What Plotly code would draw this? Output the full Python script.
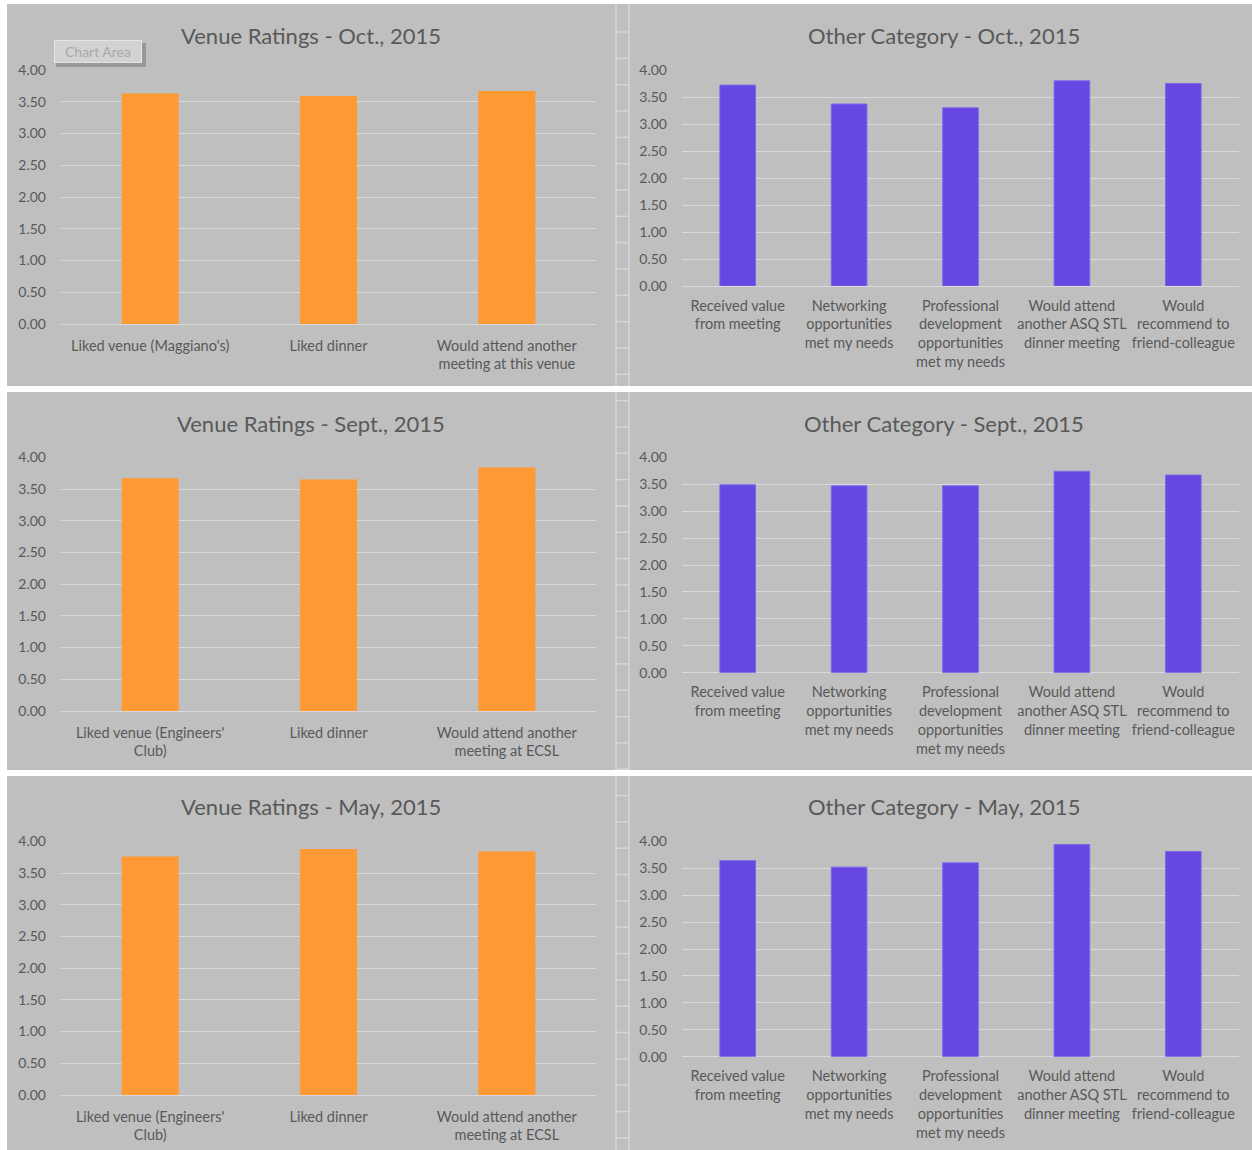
import plotly.graph_objects as go

# ---------------- data ----------------
venue_titles = ["Venue Ratings - Oct., 2015", "Venue Ratings - Sept., 2015", "Venue Ratings - May, 2015"]
other_titles = ["Other Category - Oct., 2015", "Other Category - Sept., 2015", "Other Category - May, 2015"]

venue_cats_oct = ["Liked venue (Maggiano's)", "Liked dinner",
                  "Would attend another<br>meeting at this venue"]
venue_cats_ecsl = ["Liked venue (Engineers'<br>Club)", "Liked dinner",
                   "Would attend another<br>meeting at ECSL"]
other_cats = ["Received value<br>from meeting",
              "Networking<br>opportunities<br>met my needs",
              "Professional<br>development<br>opportunities<br>met my needs",
              "Would attend<br>another ASQ STL<br>dinner meeting",
              "Would<br>recommend to<br>friend-colleague"]

venue_oct = [3.63, 3.59, 3.67]
venue_sept = [3.67, 3.65, 3.84]
venue_may = [3.76, 3.88, 3.84]

other_oct = [3.72, 3.37, 3.30, 3.80, 3.75]
other_sept = [3.49, 3.47, 3.47, 3.74, 3.67]
other_may = [3.64, 3.52, 3.60, 3.94, 3.81]

y_tick_vals = [0, 0.5, 1.0, 1.5, 2.0, 2.5, 3.0, 3.5, 4.0]

# ---------------- styling / layout ----------------
W, H = 1252, 1150
BG = "#BFBFBF"
GRID = "#D9D9D9"
TXT = "#595959"
ORANGE = "#FF9933"
PURPLE = "#6647E1"
FONT = "Lato"

def fx(px):
    return px / W

def fy(py):
    return 1 - py / H

# rows: (4.00 line px, venue zero line px, other zero line px, title y px, panel top, panel bottom)
rows = [
    (70.0, 324.0, 286.0, 36, 4, 386),
    (457.3, 711.0, 672.7, 423, 392, 770),
    (841.3, 1095.0, 1056.7, 806, 776, 1150),
]
venue_data = [venue_oct, venue_sept, venue_may]
venue_cats = [venue_cats_oct, venue_cats_ecsl, venue_cats_ecsl]
other_data = [other_oct, other_sept, other_may]

LEFT_X = (61, 596)
RIGHT_X = (682, 1239)

fig = go.Figure()
layout_axes = {}
annotations = []
shapes = []

for r, (ytop, yzero_v, yzero_o, ytitle, ptop, pbot) in enumerate(rows):
    # panel background
    shapes.append(dict(type="rect", xref="paper", yref="paper",
                       x0=fx(7), x1=1, y0=fy(pbot), y1=fy(ptop),
                       fillcolor=BG, line=dict(width=0), layer="below"))
    # cell lines in the gap column
    for gx in (616, 629):
        shapes.append(dict(type="line", xref="paper", yref="paper",
                           x0=fx(gx), x1=fx(gx), y0=fy(pbot), y1=fy(ptop),
                           line=dict(color="#D6D6D6", width=1.5), layer="below"))
    yy = 32.0
    while yy < 1150:
        if ptop < yy < pbot:
            shapes.append(dict(type="line", xref="paper", yref="paper",
                               x0=fx(616), x1=fx(629), y0=fy(yy), y1=fy(yy),
                               line=dict(color="#D6D6D6", width=1.5), layer="below"))
        yy += 26.33

    for c in range(2):
        idx = r * 2 + c + 1
        xa = "xaxis" if idx == 1 else f"xaxis{idx}"
        ya = "yaxis" if idx == 1 else f"yaxis{idx}"
        xr = "x" if idx == 1 else f"x{idx}"
        yr = "y" if idx == 1 else f"y{idx}"
        if c == 0:
            cats, vals, color, xdom, yzero = venue_cats[r], venue_data[r], ORANGE, LEFT_X, yzero_v
            line = dict(width=0)
            stand = 11
            title, tcx = venue_titles[r], 311
        else:
            cats, vals, color, xdom, yzero = other_cats, other_data[r], PURPLE, RIGHT_X, yzero_o
            line = dict(color="#7C68EA", width=1)
            stand = 9
            title, tcx = other_titles[r], 944
        fig.add_trace(go.Bar(x=cats, y=vals, marker=dict(color=color, line=line),
                             xaxis=xr, yaxis=yr, showlegend=False, hoverinfo="x+y"))
        layout_axes[xa] = dict(domain=[fx(xdom[0]), fx(xdom[1])], anchor=yr,
                               type="category", showgrid=False, showline=False,
                               zeroline=False, ticks="", ticklabelstandoff=stand,
                               tickfont=dict(family=FONT, size=14.5, color=TXT),
                               tickangle=0, fixedrange=True, automargin=False)
        layout_axes[ya] = dict(domain=[fy(yzero), fy(ytop)], anchor=xr,
                               range=[0, 4.0], tickvals=y_tick_vals,
                               tickformat=".2f", showgrid=True, gridcolor=GRID,
                               gridwidth=1, zeroline=True, zerolinecolor=GRID,
                               zerolinewidth=1, showline=False, ticks="",
                               ticklabelstandoff=14,
                               tickfont=dict(family=FONT, size=14, color=TXT),
                               fixedrange=True, automargin=False)
        annotations.append(dict(text=title, xref="paper", yref="paper",
                                x=fx(tcx), y=fy(ytitle), xanchor="center", yanchor="middle",
                                showarrow=False,
                                font=dict(family=FONT, size=22, color=TXT)))

# "Chart Area" tooltip from the original screenshot
shapes.append(dict(type="rect", xref="paper", yref="paper",
                   x0=fx(56), x1=fx(146), y0=fy(67), y1=fy(43),
                   fillcolor="#8F8F8F", line=dict(width=0), opacity=0.8, layer="above"))
annotations.append(dict(text="Chart Area", xref="paper", yref="paper",
                        x=fx(97.5), y=fy(51.5), xanchor="center", yanchor="middle",
                        showarrow=False, width=84, height=19, borderpad=1,
                        bgcolor="#D2D2D2", bordercolor="#E4E4E4", borderwidth=1,
                        font=dict(family=FONT, size=14, color="#A8A8A8")))

fig.update_layout(
    width=W, height=H, autosize=False,
    margin=dict(l=0, r=0, t=0, b=0, pad=0, autoexpand=False),
    paper_bgcolor="white", plot_bgcolor="rgba(0,0,0,0)",
    bargap=0.68, showlegend=False,
    shapes=shapes, annotations=annotations,
    font=dict(family=FONT, color=TXT),
    **layout_axes,
)

fig.write_html("out.html", config={"displayModeBar": False, "responsive": False})
